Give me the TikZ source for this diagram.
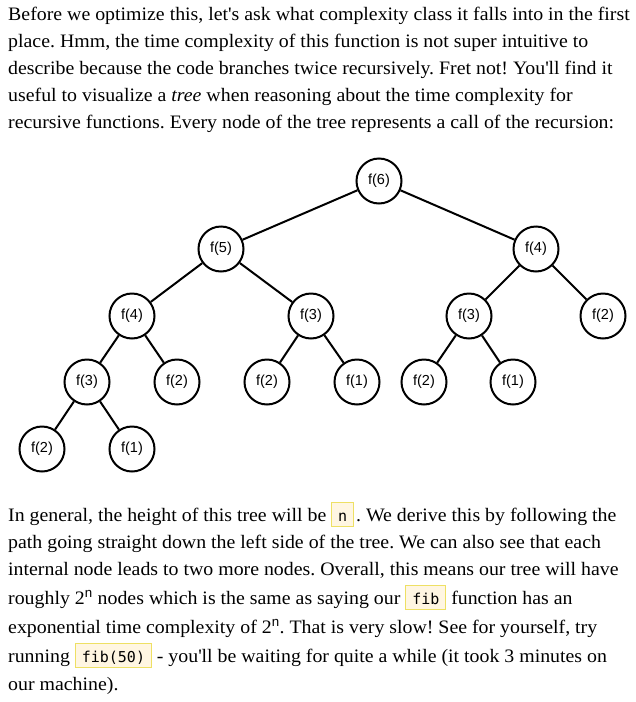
\documentclass[tikz,border=0pt]{standalone}
\usepackage{fontspec}
\setmainfont[FakeStretch=1.045]{Liberation Serif}
\setsansfont{Liberation Sans}
\setmonofont{DejaVu Sans Mono}
\usepackage{xcolor}
\frenchspacing

\definecolor{codefill}{RGB}{255,246,226}
\definecolor{codeline}{RGB}{238,224,100}
\newcommand{\codebox}[1]{{\setlength{\fboxsep}{0pt}\setlength{\fboxrule}{0.9pt}%
  \fcolorbox{codeline}{codefill}{\hspace{6pt}\rule[-5pt]{0pt}{23pt}%
  \fontsize{15}{15}\selectfont\ttfamily #1\hspace{6pt}}}}
\newcommand{\apos}{\textquotesingle}

\begin{document}
\begin{tikzpicture}[x=1pt, y=-1pt,
    txt/.style={anchor=base west, inner sep=0pt, font=\fontsize{19}{19}\selectfont},
    call/.style={circle, draw, line width=2pt, minimum size=45pt, inner sep=0pt,
      font=\sffamily\fontsize{14.5}{14.5}\selectfont}]
                \useasboundingbox (0,0) rectangle (636,702);

                \node[txt] (t1) at (8,20) {Before we optimize this, let\apos{}s ask what complexity class it falls into in the first};
                \node[txt] (t2) at (8,47) {place. Hmm, the time complexity of this function is not super intuitive to};
                \node[txt] (t3) at (8,74) {describe because the code branches twice recursively. Fret not! You\apos{}ll find it};
                \node[txt] (t4) at (8,101) {useful to visualize a \textit{tree} when reasoning about the time complexity for};
                \node[txt] (t5) at (8,128) {recursive functions. Every node of the tree represents a call of the recursion:};

                \node[call] (n6) at (379,181) {f(6)};
                \node[call] (n5) at (221,249) {f(5)};
                \node[call] (n4r) at (536,249) {f(4)};

                \node[call] (n4l) at (132,316) {f(4)};
                \node[call] (n3m) at (311,316) {f(3)};
                \node[call] (n3r) at (469,316) {f(3)};
                \node[call] (n2r) at (603,316) {f(2)};

                \node[call] (n3l) at (87,382) {f(3)};
                \node[call] (n2a) at (177,382) {f(2)};
                \node[call] (n2b) at (267,382) {f(2)};
                \node[call] (n1a) at (357,382) {f(1)};
                \node[call] (n2c) at (424,382) {f(2)};
                \node[call] (n1b) at (513,382) {f(1)};

                \node[call] (n2d) at (42,449) {f(2)};
                \node[call] (n1c) at (132,449) {f(1)};

                \foreach \a/\b in {n6/n5, n6/n4r, n5/n4l, n5/n3m, n4r/n3r, n4r/n2r,
                    n4l/n3l, n4l/n2a, n3m/n2b, n3m/n1a, n3r/n2c, n3r/n1b, n3l/n2d, n3l/n1c}
                    \draw[line width=2pt] (\a) -- (\b);

                \node[txt] (b1) at (8,521) {In general, the height of this tree will be \codebox{n}\kern2pt. We derive this by following the};
                \node[txt] (b2) at (8,548) {path going straight down the left side of the tree. We can also see that each};
                \node[txt] (b3) at (8,575) {internal node leads to two more nodes. Overall, this means our tree will have};
                \node[txt] (b4) at (8,604) {roughly 2\textsuperscript{\sffamily n} nodes which is the same as saying our \codebox{fib} function has an};
                \node[txt] (b5) at (8,633) {exponential time complexity of 2\textsuperscript{\sffamily n}. That is very slow! See for yourself, try};
                \node[txt] (b6) at (8,662) {running \codebox{fib(50)} - you\apos{}ll be waiting for quite a while (it took 3 minutes on};
                \node[txt] (b7) at (8,690) {our machine).};
            \end{tikzpicture}
\end{document}
